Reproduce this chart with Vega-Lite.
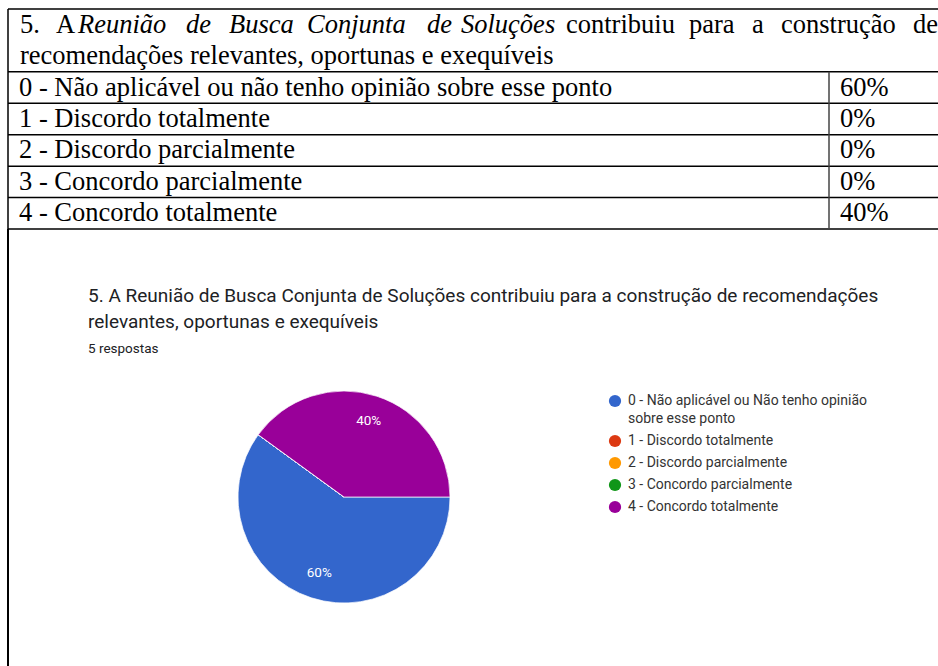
{
  "$schema": "https://vega.github.io/schema/vega-lite/v6.json",
  "background": "white",
  "padding": {"left": 7, "top": 8, "right": 0, "bottom": 0},
  "spacing": 0,
  "bounds": "flush",
  "config": {
    "view": {"stroke": null},
    "concat": {"spacing": 0},
    "font": "Roboto",
    "style": {
      "celula": {"font": "Liberation Serif", "fontSize": 26.5, "align": "left", "baseline": "middle", "fill": "#000"},
      "italico": {"font": "Liberation Serif", "fontSize": 26.5, "align": "left", "baseline": "middle", "fill": "#000", "fontStyle": "italic"},
      "borda": {"stroke": "#444", "strokeWidth": 1.5},
      "guide-label": {"lineHeight": 18}
    }
  },
  "datasets": {
    "cabecalho": [
      {"linha": "h1", "peca": 1, "texto": "5."},
      {"linha": "h1", "peca": 2, "texto": "A"},
      {"linha": "h1", "peca": 3, "texto": "Reunião"},
      {"linha": "h1", "peca": 4, "texto": "de"},
      {"linha": "h1", "peca": 5, "texto": "Busca"},
      {"linha": "h1", "peca": 6, "texto": "Conjunta"},
      {"linha": "h1", "peca": 7, "texto": "de"},
      {"linha": "h1", "peca": 8, "texto": "Soluções"},
      {"linha": "h1", "peca": 9, "texto": "contribuiu"},
      {"linha": "h1", "peca": 10, "texto": "para"},
      {"linha": "h1", "peca": 11, "texto": "a"},
      {"linha": "h1", "peca": 12, "texto": "construção"},
      {"linha": "h1", "peca": 13, "texto": "de"},
      {"linha": "h2", "peca": 1, "texto": "recomendações relevantes, oportunas e exequíveis"}
    ],
    "respostas": [
      {"cod": "0", "tabela": "0 - Não aplicável ou não tenho opinião sobre esse ponto", "legenda": "0 - Não aplicável ou Não tenho opinião sobre esse ponto", "n": 3, "pct": "60%"},
      {"cod": "1", "tabela": "1 - Discordo totalmente", "legenda": "1 - Discordo totalmente", "n": 0, "pct": "0%"},
      {"cod": "2", "tabela": "2 - Discordo parcialmente", "legenda": "2 - Discordo parcialmente", "n": 0, "pct": "0%"},
      {"cod": "3", "tabela": "3 - Concordo parcialmente", "legenda": "3 - Concordo parcialmente", "n": 0, "pct": "0%"},
      {"cod": "4", "tabela": "4 - Concordo totalmente", "legenda": "4 - Concordo totalmente", "n": 2, "pct": "40%"}
    ]
  },
  "vconcat": [
    {
      "width": 931,
      "height": 220,
      "layer": [
        {
          "data": {"name": "cabecalho"},
          "encoding": {
            "x": {"datum": "tabela", "type": "nominal", "scale": {"type": "point", "domain": ["tabela", "pct"], "range": [0, 821], "padding": 0}, "axis": null},
            "y": {"field": "linha", "type": "nominal", "scale": {"domain": ["h1", "h2", "0", "1", "2", "3", "4"], "paddingInner": 0, "paddingOuter": 0}, "axis": null},
            "text": {"field": "texto"}
          },
          "layer": [
            {"transform": [{"filter": "datum.peca == 1"}], "mark": {"type": "text", "style": "celula", "dx": 12}},
            {"transform": [{"filter": "datum.peca == 2"}], "mark": {"type": "text", "style": "celula", "dx": 48}},
            {"transform": [{"filter": "datum.peca == 3"}], "mark": {"type": "text", "style": "italico", "dx": 70}},
            {"transform": [{"filter": "datum.peca == 4"}], "mark": {"type": "text", "style": "italico", "dx": 178}},
            {"transform": [{"filter": "datum.peca == 5"}], "mark": {"type": "text", "style": "italico", "dx": 221}},
            {"transform": [{"filter": "datum.peca == 6"}], "mark": {"type": "text", "style": "italico", "dx": 299}},
            {"transform": [{"filter": "datum.peca == 7"}], "mark": {"type": "text", "style": "italico", "dx": 419}},
            {"transform": [{"filter": "datum.peca == 8"}], "mark": {"type": "text", "style": "italico", "dx": 453}},
            {"transform": [{"filter": "datum.peca == 9"}], "mark": {"type": "text", "style": "celula", "dx": 558}},
            {"transform": [{"filter": "datum.peca == 10"}], "mark": {"type": "text", "style": "celula", "dx": 681}},
            {"transform": [{"filter": "datum.peca == 11"}], "mark": {"type": "text", "style": "celula", "dx": 744}},
            {"transform": [{"filter": "datum.peca == 12"}], "mark": {"type": "text", "style": "celula", "dx": 773}},
            {"transform": [{"filter": "datum.peca == 13"}], "mark": {"type": "text", "style": "celula", "dx": 905}},
            {
              "transform": [{"filter": "datum.peca == 1 && datum.linha == 'h1'"}],
              "mark": {"type": "rule", "style": "borda"},
              "encoding": {"x": null, "text": null, "y": {"field": "linha", "type": "nominal", "bandPosition": 0}}
            },
            {
              "transform": [{"filter": "datum.peca == 1 && datum.linha == 'h1'"}],
              "mark": {"type": "rule", "style": "borda"},
              "encoding": {"y": null, "text": null}
            }
          ]
        },
        {
          "data": {"name": "respostas"},
          "transform": [{"fold": ["tabela", "pct"], "as": ["coluna", "texto"]}],
          "mark": {"type": "text", "style": "celula", "dx": 11},
          "encoding": {
            "x": {"field": "coluna", "type": "nominal"},
            "y": {"field": "cod", "type": "nominal"},
            "text": {"field": "texto"}
          }
        },
        {
          "data": {"name": "respostas"},
          "mark": {"type": "rule", "style": "borda"},
          "encoding": {
            "y": {"field": "cod", "type": "nominal", "bandPosition": 0}
          }
        },
        {
          "data": {"name": "respostas"},
          "transform": [{"filter": "datum.cod == '4'"}],
          "mark": {"type": "rule", "style": "borda"},
          "encoding": {
            "y": {"field": "cod", "type": "nominal", "bandPosition": 1}
          }
        },
        {
          "data": {"name": "respostas"},
          "mark": {"type": "rect", "width": 1.5, "color": "#444"},
          "encoding": {
            "x": {"datum": "pct", "type": "nominal"},
            "y": {"field": "cod", "type": "nominal"}
          }
        }
      ]
    },
    {
      "width": 672,
      "height": 536,
      "data": {"name": "respostas"},
      "title": {
        "text": ["5. A Reunião de Busca Conjunta de Soluções  contribuiu para a construção de recomendações", "relevantes, oportunas e exequíveis"],
        "subtitle": "5 respostas",
        "anchor": "start",
        "frame": "group",
        "orient": "top",
        "offset": -127,
        "dx": 80,
        "font": "Roboto",
        "fontSize": 19,
        "fontWeight": "normal",
        "color": "#202124",
        "lineHeight": 26,
        "subtitleFont": "Roboto",
        "subtitleFontSize": 13.5,
        "subtitleColor": "#202124",
        "subtitlePadding": 9.5
      },
      "layer": [
        {
          "mark": {"type": "rule", "style": "borda"},
          "encoding": {
            "x": {"datum": 0, "type": "quantitative", "scale": {"domain": [0, 1]}, "axis": null}
          }
        },
        {
          "encoding": {
            "theta": {"field": "n", "type": "quantitative", "stack": true, "scale": {"range": [1.5708, 7.854]}},
            "order": {"field": "cod", "type": "ordinal"}
          },
          "layer": [
            {
              "mark": {"type": "arc", "outerRadius": 106, "stroke": "white", "strokeWidth": 0.7},
              "encoding": {
                "color": {
                  "field": "legenda",
                  "type": "nominal",
                  "scale": {
                    "domain": ["0 - Não aplicável ou Não tenho opinião sobre esse ponto", "1 - Discordo totalmente", "2 - Discordo parcialmente", "3 - Concordo parcialmente", "4 - Concordo totalmente"],
                    "range": ["#3366cc", "#dc3912", "#ff9900", "#109618", "#990099"]
                  },
                  "legend": {
                    "orient": "none",
                    "legendX": 600,
                    "legendY": 385,
                    "title": null,
                    "symbolType": "circle",
                    "symbolSize": 150,
                    "symbolStrokeWidth": 0,
                    "labelFont": "Roboto",
                    "labelFontSize": 14,
                    "labelColor": "#333",
                    "labelOffset": 6,
                    "labelLimit": 400,
                    "rowPadding": 8,
                    "labelExpr": "indexof(datum.label, ' sobre') > 0 ? [substring(datum.label, 0, indexof(datum.label, ' sobre')), substring(datum.label, indexof(datum.label, ' sobre') + 1)] : datum.label"
                  }
                }
              }
            },
            {
              "transform": [{"filter": "datum.n > 0"}],
              "mark": {"type": "text", "radius": 80, "fill": "white", "font": "Roboto", "fontSize": 13.5},
              "encoding": {
                "text": {"field": "pct"}
              }
            }
          ]
        }
      ]
    }
  ]
}
